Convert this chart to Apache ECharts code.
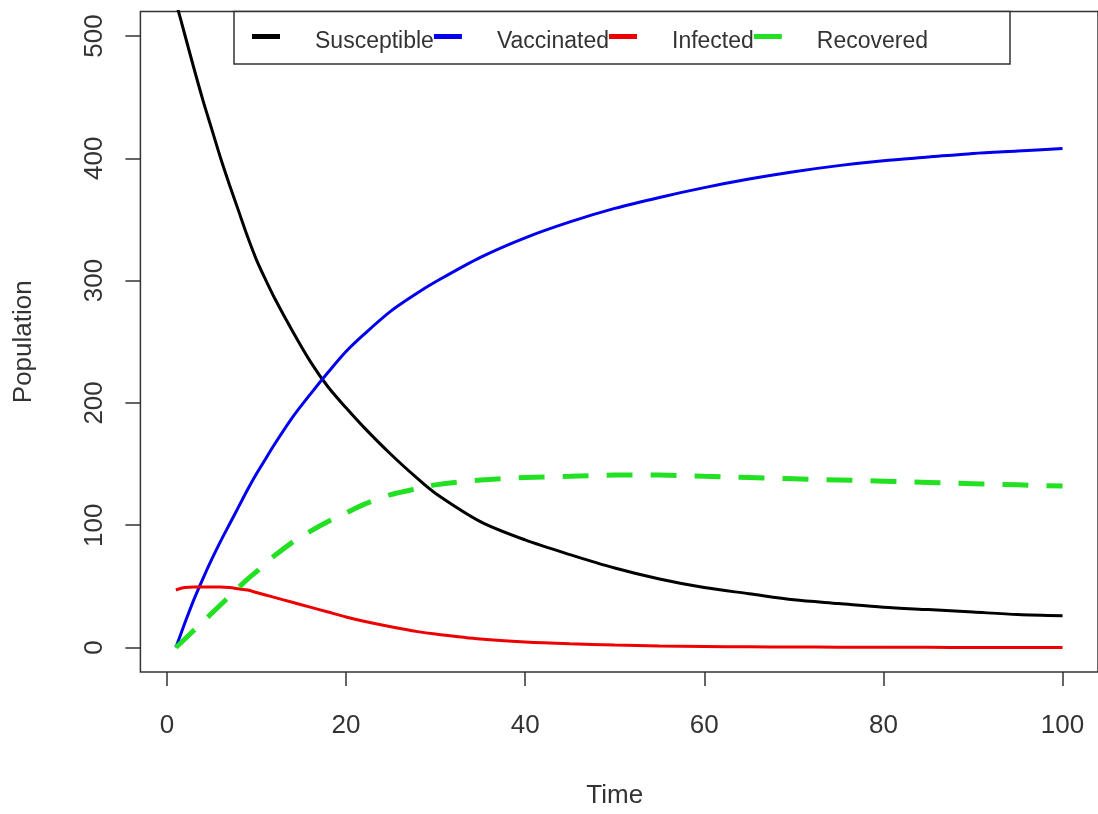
<!DOCTYPE html>
<html>
<head>
<meta charset="utf-8">
<title>Population</title>
<script src="https://cdn.jsdelivr.net/npm/echarts@6/dist/echarts.min.js"></script>
<style>
  html, body { margin: 0; padding: 0; background: #fff; }
  #chart { width: 1098px; height: 814px; }
</style>
</head>
<body>
<div id="chart"></div>
<script>
// time steps
const times = [1, 2, 3, 4, 5, 6, 7, 8, 9, 10, 11, 12, 14, 16, 18, 20, 22, 25, 28, 30, 35, 40, 45, 50, 55, 60, 65, 70, 75, 80, 85, 90, 95, 100]
const susceptible = [528, 501, 474, 448, 424, 400, 378, 357, 336, 317, 301, 286, 259, 234, 213, 196, 180, 158, 138, 126, 103, 88, 76, 65, 56, 49, 44, 39, 36, 33, 31, 29, 27, 26]
const vaccinated = [0, 20, 39, 56, 72, 87, 101, 115, 129, 142, 154, 166, 188, 207, 225, 242, 256, 275, 290, 299, 319, 335, 348, 359, 368, 376, 383, 389, 394, 398, 401, 404, 406, 408]
const infected = [47, 49, 49.5, 49.5, 49.5, 49.5, 49, 48, 47, 45, 43, 41, 37, 33, 29, 25, 21.5, 17, 13, 11, 7, 4.5, 3, 2, 1.3, 0.9, 0.6, 0.4, 0.3, 0.2, 0.15, 0.1, 0.07, 0.05]
const recovered = [0, 7, 14, 21, 28, 35, 42, 49, 56, 62, 69, 75, 86, 95, 103, 110, 117, 125, 130, 133, 137, 139, 140, 141, 141, 140, 139, 138, 137, 136, 135, 134, 133, 132]

const xTicks = [0, 20, 40, 60, 80, 100]
const yTicks = [0, 100, 200, 300, 400, 500]
const seriesNames = ['Susceptible', 'Vaccinated', 'Infected', 'Recovered']

const pair = vals => times.map((t, i) => [t, vals[i]])

const font = 'Liberation Sans, Arial, sans-serif'
const ink = '#333'

const myChart = echarts.init(document.getElementById('chart'))

const lineSeries = (name, vals, color, extra) => Object.assign({
  name: name,
  type: 'line',
  data: pair(vals),
  showSymbol: false,
  smooth: 0.3,
  z: 2,
  itemStyle: { color: color },
  lineStyle: { color: color, width: 3 }
}, extra || {})

const options = {
  backgroundColor: '#fff',
  animation: false,
  grid: {
    left: 140.4,
    right: -6.4,
    top: 11.5,
    bottom: 140.5,
    show: true,
    borderColor: ink,
    borderWidth: 1.5,
    backgroundColor: 'transparent'
  },
  legend: {
    data: seriesNames,
    left: 252,
    top: 25,
    padding: 0,
    itemGap: 0,
    itemWidth: 28,
    itemHeight: 5,
    icon: 'rect',
    z: 5,
    formatter: name => '{p| }{t|' + name + '}',
    textStyle: {
      fontFamily: font,
      fontSize: 23,
      color: ink,
      rich: {
        p: { width: 30, fontSize: 23 },
        t: { width: 128, fontSize: 23, fontFamily: font, color: ink, padding: [11, 0, 0, 0] }
      }
    }
  },
  graphic: [{
    type: 'rect',
    z: 4,
    shape: { x: 234, y: 11.5, width: 776, height: 52.5 },
    style: { fill: '#fff', stroke: ink, lineWidth: 1.5 }
  }],
  xAxis: {
    type: 'value',
    min: -2.96,
    max: 103.96,
    name: 'Time',
    nameLocation: 'middle',
    nameGap: 111,
    nameTextStyle: { fontFamily: font, fontSize: 26, color: ink, padding: [0, 9, 0, 0] },
    axisLine: { show: false, onZero: false },
    splitLine: { show: false },
    axisTick: {
      show: true,
      inside: false,
      length: 14,
      customValues: xTicks,
      lineStyle: { color: ink, width: 1.5 }
    },
    axisLabel: {
      customValues: xTicks,
      margin: 41,
      fontFamily: font,
      fontSize: 26,
      color: ink
    }
  },
  yAxis: {
    type: 'value',
    min: -20,
    max: 520,
    name: 'Population',
    nameLocation: 'middle',
    nameGap: 104,
    nameTextStyle: { fontFamily: font, fontSize: 26, color: ink },
    axisLine: { show: false, onZero: false },
    splitLine: { show: false },
    axisTick: {
      show: true,
      inside: false,
      length: 15,
      customValues: yTicks,
      lineStyle: { color: ink, width: 1.5 }
    },
    axisLabel: {
      customValues: yTicks,
      rotate: 90,
      margin: 33,
      fontFamily: font,
      fontSize: 26,
      color: ink
    }
  },
  series: [
    lineSeries('Susceptible', susceptible, '#000000'),
    lineSeries('Vaccinated', vaccinated, '#0000ee'),
    lineSeries('Infected', infected, '#ee0000'),
    lineSeries('Recovered', recovered, '#22e022', {
      lineStyle: { color: '#22e022', width: 5, type: [26, 18] }
    })
  ]
}

myChart.setOption(options)
</script>
</body>
</html>
